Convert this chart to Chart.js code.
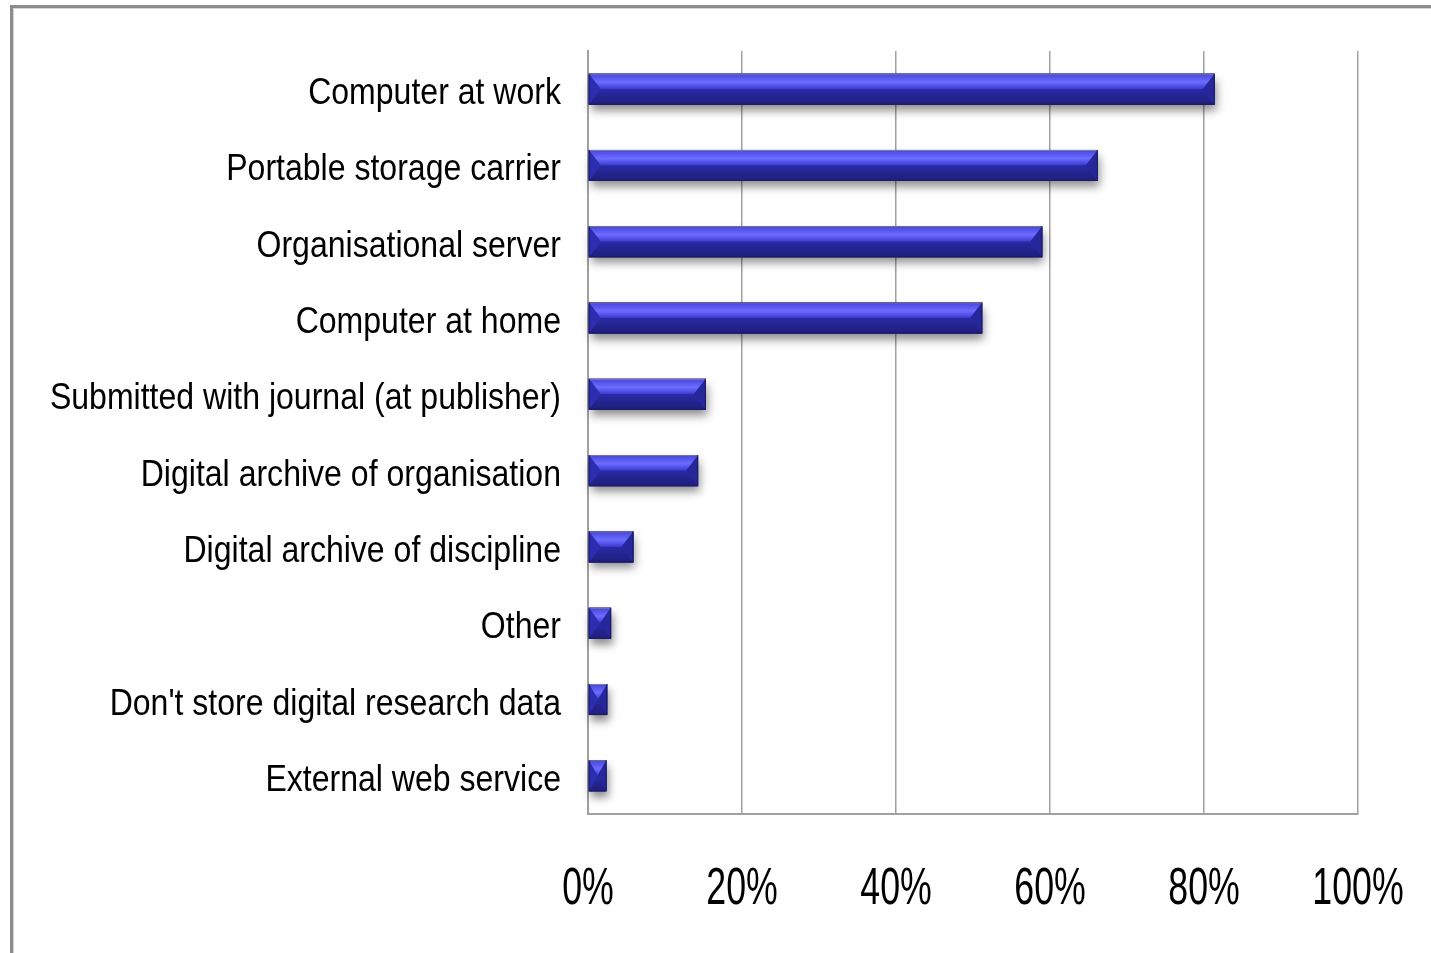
<!DOCTYPE html>
<html>
<head>
<meta charset="utf-8">
<script src="https://cdn.jsdelivr.net/npm/chart.js@4/dist/chart.umd.min.js"></script>
<style>
  html, body { margin: 0; padding: 0; background: #ffffff; }
  #wrap { position: relative; width: 1431px; height: 953px; }
  canvas { display: block; }
</style>
</head>
<body>
<div id="wrap"><canvas id="c" width="1431" height="953"></canvas></div>
<script>
const categories = [
  "Computer at work",
  "Portable storage carrier",
  "Organisational server",
  "Computer at home",
  "Submitted with journal (at publisher)",
  "Digital archive of organisation",
  "Digital archive of discipline",
  "Other",
  "Don't store digital research data",
  "External web service"
];
const shares = [81.4, 66.2, 59.0, 51.2, 15.3, 14.3, 5.9, 3.0, 2.5, 2.4];
const xTickValues = [0, 20, 40, 60, 80, 100];
const xTickLabels = ["0%", "20%", "40%", "60%", "80%", "100%"];

const FONT = '"Liberation Sans", Arial, Helvetica, sans-serif';

const framePlugin = {
  id: 'frame',
  beforeDraw(chart) {
    const ctx = chart.ctx;
    ctx.save();
    ctx.fillStyle = '#ffffff';
    ctx.fillRect(0, 0, chart.width, chart.height);
    ctx.fillStyle = '#8c8c8c';
    ctx.fillRect(10, 5, 3, chart.height - 5);
    ctx.fillRect(10, 5, chart.width - 10, 3);
    ctx.fillStyle = '#d4d4d4';
    ctx.fillRect(13, 8, 1, chart.height - 8);
    ctx.fillRect(13, 8, chart.width - 13, 1);
    ctx.restore();
  }
};

// Condensed (narrow) text labels, positioned by the chart's own scales
const labelPlugin = {
  id: 'narrowLabels',
  afterDraw(chart) {
    const ctx = chart.ctx;
    const ys = chart.scales.y, xs = chart.scales.x;
    ctx.save();
    ctx.fillStyle = '#000000';
    ctx.textBaseline = 'alphabetic';
    ctx.font = '36px ' + FONT;
    ctx.textAlign = 'right';
    chart.data.labels.forEach((lab, i) => {
      const y = ys.getPixelForTick(i);
      ctx.save();
      ctx.translate(561, y + 15);
      ctx.scale(0.89, 1);
      ctx.fillText(lab, 0, 0);
      ctx.restore();
    });
    ctx.font = '51px ' + FONT;
    ctx.textAlign = 'center';
    xTickValues.forEach((v, i) => {
      const x = xs.getPixelForValue(v);
      ctx.save();
      ctx.translate(x, 904);
      ctx.scale(0.7, 1);
      ctx.fillText(xTickLabels[i], 0, 0);
      ctx.restore();
    });
    ctx.restore();
  }
};

function barRect(bar) {
  const p = bar.getProps(['x', 'y', 'base', 'height'], true);
  const x0 = Math.min(p.base, p.x), x1 = Math.max(p.base, p.x);
  return { x0, x1, y0: p.y - p.height / 2, y1: p.y + p.height / 2 };
}

const bevelPlugin = {
  id: 'bevel',
  beforeDatasetsDraw(chart) {
    const ctx = chart.ctx;
    const meta = chart.getDatasetMeta(0);
    ctx.save();
    meta.data.forEach(bar => {
      const r = barRect(bar);
      ctx.shadowColor = 'rgba(0,0,0,0.45)';
      ctx.shadowBlur = 9;
      ctx.shadowOffsetX = 2;
      ctx.shadowOffsetY = 6;
      ctx.fillStyle = '#22228a';
      ctx.fillRect(r.x0, r.y0, r.x1 - r.x0, r.y1 - r.y0);
    });
    ctx.restore();
  },
  afterDatasetsDraw(chart) {
    const ctx = chart.ctx;
    const meta = chart.getDatasetMeta(0);
    ctx.save();
    meta.data.forEach(bar => {
      const { x0, x1, y0, y1 } = barRect(bar);
      const h = y1 - y0, w = x1 - x0;
      const ym = y0 + h * 0.5;
      const b = Math.min(12, w / 2);

      let g = ctx.createLinearGradient(0, y0, 0, ym);
      g.addColorStop(0, '#4646de');
      g.addColorStop(0.3, '#5a5af0');
      g.addColorStop(0.55, '#6c6cff');
      g.addColorStop(0.8, '#5050e6');
      g.addColorStop(1, '#3a3ad0');
      ctx.fillStyle = g;
      ctx.beginPath();
      ctx.moveTo(x0, y0); ctx.lineTo(x1, y0); ctx.lineTo(x1 - b, ym); ctx.lineTo(x0 + b, ym); ctx.closePath();
      ctx.fill();

      g = ctx.createLinearGradient(0, ym, 0, y1);
      g.addColorStop(0, '#2a2aa6');
      g.addColorStop(0.5, '#23238e');
      g.addColorStop(1, '#1f1f7c');
      ctx.fillStyle = g;
      ctx.beginPath();
      ctx.moveTo(x0 + b, ym); ctx.lineTo(x1 - b, ym); ctx.lineTo(x1, y1); ctx.lineTo(x0, y1); ctx.closePath();
      ctx.fill();

      ctx.fillStyle = '#2d2db0';
      ctx.beginPath();
      ctx.moveTo(x0, y0); ctx.lineTo(x0 + b, ym); ctx.lineTo(x0, y1); ctx.closePath();
      ctx.fill();

      ctx.fillStyle = '#27279c';
      ctx.beginPath();
      ctx.moveTo(x1, y0); ctx.lineTo(x1 - b, ym); ctx.lineTo(x1, y1); ctx.closePath();
      ctx.fill();

      ctx.strokeStyle = '#1b1b5e';
      ctx.lineWidth = 1;
      ctx.strokeRect(x0 + 0.5, y0 + 0.5, w - 1, h - 1);
      ctx.strokeStyle = 'rgba(170,170,220,0.7)';
      ctx.beginPath();
      ctx.moveTo(x0 + 1, y0 + 0.5); ctx.lineTo(x1 - 1, y0 + 0.5);
      ctx.stroke();
    });
    ctx.restore();
  }
};

new Chart(document.getElementById('c'), {
  type: 'bar',
  data: {
    labels: categories,
    datasets: [{
      data: shares,
      backgroundColor: '#2a2aa6',
      borderWidth: 0,
      categoryPercentage: 1.0,
      barPercentage: 0.406
    }]
  },
  options: {
    indexAxis: 'y',
    responsive: false,
    animation: false,
    devicePixelRatio: 1,
    layout: { padding: { top: 51, right: 73, left: 0, bottom: 0 } },
    plugins: { legend: { display: false }, tooltip: { enabled: false } },
    scales: {
      x: {
        min: 0,
        max: 100,
        afterBuildTicks(scale) { scale.ticks = xTickValues.map(v => ({ value: v })); },
        ticks: { display: false },
        grid: { color: '#a0a0a0', lineWidth: 1.5, drawTicks: false },
        border: { display: true, color: '#a0a0a0', width: 2 },
        afterFit(scale) { scale.height = 139; }
      },
      y: {
        ticks: { display: false },
        grid: { display: false, drawTicks: false },
        border: { display: true, color: '#a0a0a0', width: 2 },
        afterFit(scale) { scale.width = 588; }
      }
    }
  },
  plugins: [framePlugin, bevelPlugin, labelPlugin]
});
</script>
</body>
</html>
